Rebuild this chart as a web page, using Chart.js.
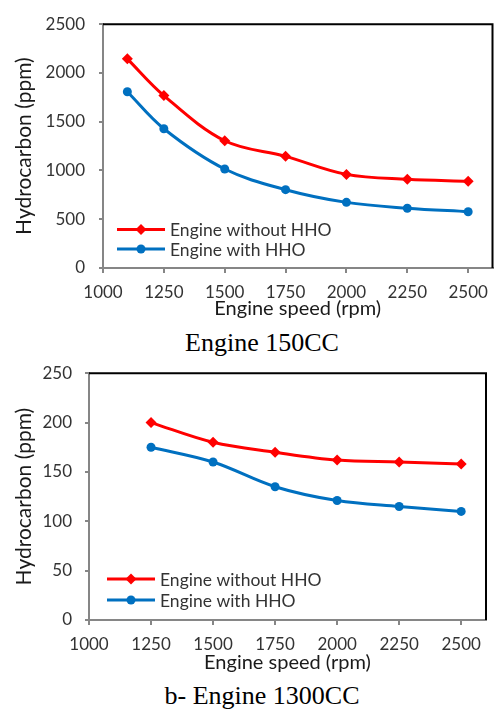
<!DOCTYPE html>
<html>
<head>
<meta charset="utf-8">
<script src="https://cdn.jsdelivr.net/npm/chart.js@4.4.1/dist/chart.umd.min.js"></script>
<style>
  body { margin: 0; background: #fff; }
  #page { position: relative; width: 498px; height: 709px; overflow: hidden; }
  .box { position: absolute; left: 0; }
  .cap { position: absolute; left: 0; width: 524px; text-align: center;
         font-family: "Liberation Serif", "Times New Roman", serif; font-size: 26px; color: #000; }
</style>
</head>
<body>
<div id="page">
  <div class="box" style="top:0"><canvas id="topChart" width="498" height="325"></canvas></div>
  <div class="cap" style="top:328px">Engine 150CC</div>
  <div class="box" style="top:350px"><canvas id="botChart" width="498" height="330"></canvas></div>
  <div class="cap" style="top:681px">b- Engine 1300CC</div>
</div>
<script>
// Engine 150CC
var speeds150 = [1100, 1250, 1500, 1750, 2000, 2250, 2500];
var hcWithout150 = [2145, 1768, 1305, 1145, 960, 910, 890];
var hcWith150 = [1807, 1428, 1015, 803, 673, 613, 577];

// Engine 1300CC
var speeds1300 = [1250, 1500, 1750, 2000, 2250, 2500];
var hcWithout1300 = [200, 180, 170, 162, 160, 158];
var hcWith1300 = [175, 160, 135, 121, 115, 110];

// x tick labels (both charts)
var speedTicks = [1000, 1250, 1500, 1750, 2000, 2250, 2500];

var labelWithout = 'Engine without HHO';
var labelWith = 'Engine with HHO';
var xTitle = 'Engine speed (rpm)';
var yTitle = 'Hydrocarbon (ppm)';

var RED = '#ff0000';
var BLUE = '#0070c0';
var AXIS = '#868686';
var TXT = '#333333';
var FONT = 'Lato, "Noto Sans", sans-serif';

function pts(xs, ys) {
  return xs.map(function (x, i) { return { x: x, y: ys[i] }; });
}

// black frame on top and right of the plot area
var frame = {
  id: 'frame',
  afterDraw: function (chart) {
    var a = chart.chartArea, c = chart.ctx;
    c.save();
    c.strokeStyle = '#000';
    c.lineWidth = 2;
    c.beginPath();
    c.moveTo(a.left, a.top);
    c.lineTo(a.right, a.top);
    c.lineTo(a.right, a.bottom);
    c.stroke();
    c.restore();
  }
};

// legend drawn inside the plot area, bottom-left
var innerLegend = {
  id: 'innerLegend',
  afterDraw: function (chart, args, opts) {
    var a = chart.chartArea, c = chart.ctx;
    c.save();
    chart.data.datasets.forEach(function (ds, i) {
      var x = a.left + opts.dx;
      var y = a.bottom - opts.rows[i];
      c.strokeStyle = ds.borderColor;
      c.lineWidth = 3;
      c.beginPath();
      c.moveTo(x, y);
      c.lineTo(x + 48, y);
      c.stroke();
      c.fillStyle = ds.borderColor;
      c.beginPath();
      if (ds.pointStyle === 'rectRot') {
        c.moveTo(x + 24, y - 5.5);
        c.lineTo(x + 29.5, y);
        c.lineTo(x + 24, y + 5.5);
        c.lineTo(x + 18.5, y);
        c.closePath();
      } else {
        c.arc(x + 24, y, 4.5, 0, Math.PI * 2);
      }
      c.fill();
      c.fillStyle = TXT;
      c.font = '17.5px ' + FONT;
      c.textBaseline = 'middle';
      c.fillText(ds.label, x + 53, y + 1);
    });
    c.restore();
  }
};

function makeChart(id, xs, yA, yB, o) {
  return new Chart(document.getElementById(id), {
    type: 'line',
    data: {
      datasets: [{
        label: labelWithout,
        data: pts(xs, yA),
        borderColor: RED,
        backgroundColor: RED,
        borderWidth: 3,
        pointStyle: 'rectRot',
        pointRadius: 5.5,
        pointBorderWidth: 0,
        tension: 0.35
      }, {
        label: labelWith,
        data: pts(xs, yB),
        borderColor: BLUE,
        backgroundColor: BLUE,
        borderWidth: 3,
        pointStyle: 'circle',
        pointRadius: 4.5,
        pointBorderWidth: 0,
        tension: 0.35
      }]
    },
    options: {
      responsive: false,
      animation: false,
      layout: { padding: o.pad },
      plugins: {
        legend: { display: false },
        tooltip: { enabled: false },
        innerLegend: o.legend
      },
      scales: {
        x: {
          type: 'linear',
          min: 1000,
          max: 2600,
          afterBuildTicks: function (s) {
            s.ticks = speedTicks.map(function (v) { return { value: v }; });
          },
          afterFit: function (s) { s.height = o.xh; },
          ticks: { padding: 9, color: TXT, font: { family: FONT, size: 17 }, maxRotation: 0,
                   callback: function (v) { return String(v); } },
          grid: { drawOnChartArea: false, tickLength: 5, color: AXIS, lineWidth: 2 },
          border: { color: AXIS, width: 2 },
          title: { display: true, text: xTitle, color: '#1a1a1a', font: { family: FONT, size: 20 }, padding: { top: 0, bottom: o.xtp } }
        },
        y: {
          min: 0,
          max: o.ymax,
          afterFit: function (s) { s.width = o.yw; },
          ticks: { stepSize: o.ystep, padding: o.ytp, color: TXT, font: { family: FONT, size: 17 },
                   callback: function (v) { return String(v); } },
          grid: { drawOnChartArea: false, tickLength: 4, color: AXIS, lineWidth: 2 },
          border: { color: AXIS, width: 2 },
          title: { display: true, text: yTitle, color: '#1a1a1a', font: { family: FONT, size: 21 }, padding: { top: 12, bottom: 0 } }
        }
      }
    },
    plugins: [frame, innerLegend]
  });
}

makeChart('topChart', speeds150, hcWithout150, hcWith150, {
  pad: { top: 18, right: 1, left: 0, bottom: 0 },
  xh: 57, xtp: 4, yw: 103, ytp: 14, ymax: 2500, ystep: 500,
  legend: { dx: 14, rows: [38.5, 19] }
});

makeChart('botChart', speeds1300, hcWithout1300, hcWith1300, {
  pad: { top: 17, right: 12, left: 0, bottom: 0 },
  xh: 60, xtp: 5, yw: 89, ytp: 13, ymax: 250, ystep: 50,
  legend: { dx: 18, rows: [41, 20] }
});
</script>
</body>
</html>
